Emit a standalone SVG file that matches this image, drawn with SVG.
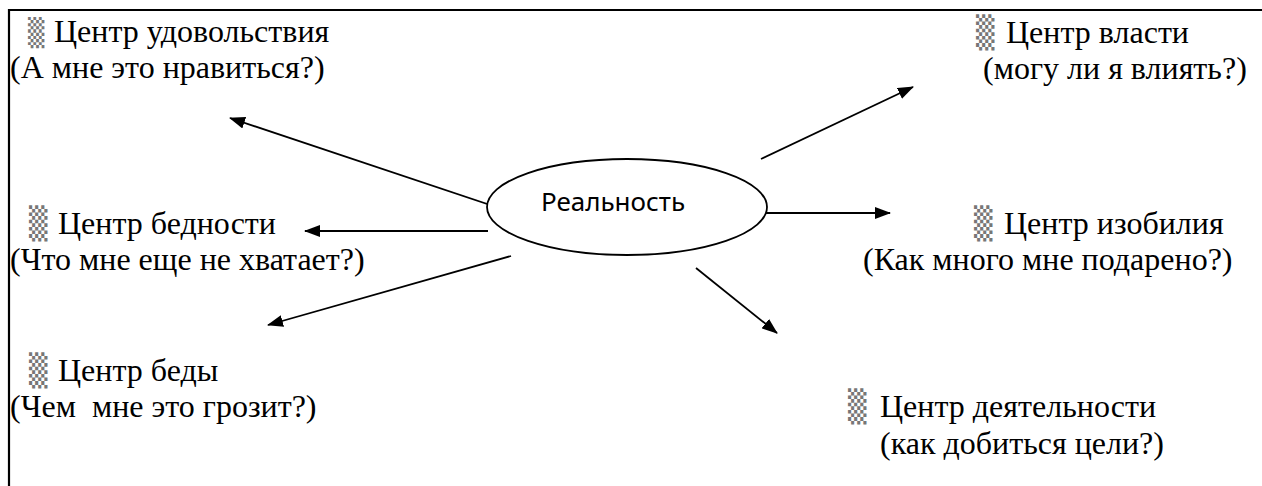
<svg xmlns="http://www.w3.org/2000/svg" width="1262" height="486" viewBox="0 0 1262 486">
<defs>
<style>
.t{font-family:"Liberation Serif","Times New Roman",serif;font-size:32px;fill:#000}
.s{font-family:"DejaVu Sans Mono","DejaVu Sans",monospace;font-size:31px;fill:#777}
.c{stroke:#000;stroke-width:1.8;fill:none}
</style>
<marker id="ah" viewBox="0 0 16 12" refX="15" refY="6" markerWidth="16" markerHeight="12" markerUnits="userSpaceOnUse" orient="auto">
<path d="M0,0 L16,6 L0,12 Z" fill="#000"/>
</marker>
</defs>
<rect width="1262" height="486" fill="#fff"/>
<path d="M9,486 L9,10 L1262,10" stroke="#000" stroke-width="2.2" fill="none"/>
<g id="connectors">
<line class="c" x1="511" y1="212" x2="230" y2="118" marker-end="url(#ah)"/>
<line class="c" x1="761" y1="159" x2="913" y2="87" marker-end="url(#ah)"/>
<line class="c" x1="488" y1="231" x2="305" y2="231" marker-end="url(#ah)"/>
<line class="c" x1="762" y1="213" x2="890" y2="213" marker-end="url(#ah)"/>
<line class="c" x1="511" y1="256" x2="268" y2="325" marker-end="url(#ah)"/>
<line class="c" x1="696" y1="268" x2="777" y2="333" marker-end="url(#ah)"/>
</g>
<g id="reality">
<ellipse cx="627" cy="207" rx="140" ry="48" fill="#fff" stroke="#000" stroke-width="1.8"/>
<text x="613" y="211" text-anchor="middle" style="font-family:'Noto Sans','Open Sans',sans-serif;font-size:26px">Реальность</text>
</g>
<g id="pleasure">
<text class="s" x="28" y="42" style="font-size:27px">▒</text>
<text class="t" x="54" y="42">Центр удовольствия</text>
<text class="t" x="10" y="78">(А мне это нравиться?)</text>
</g>
<g id="power">
<text class="s" x="976" y="43">▒</text>
<text class="t" x="1006" y="43">Центр власти</text>
<text class="t" x="983" y="79">(могу ли я влиять?)</text>
</g>
<g id="poverty">
<text class="s" x="29" y="234">▒</text>
<text class="t" x="58" y="234">Центр бедности</text>
<text class="t" x="10" y="270">(Что мне еще не хватает?)</text>
</g>
<g id="abundance">
<text class="s" x="974" y="234">▒</text>
<text class="t" x="1004" y="234">Центр изобилия</text>
<text class="t" x="863" y="270">(Как много мне подарено?)</text>
</g>
<g id="trouble">
<text class="s" x="29" y="381">▒</text>
<text class="t" x="58" y="381">Центр беды</text>
<text class="t" x="10" y="417" xml:space="preserve">(Чем  мне это грозит?)</text>
</g>
<g id="activity">
<text class="s" x="848" y="417">▒</text>
<text class="t" x="880" y="417">Центр деятельности</text>
<text class="t" x="880" y="454">(как добиться цели?)</text>
</g>
</svg>
